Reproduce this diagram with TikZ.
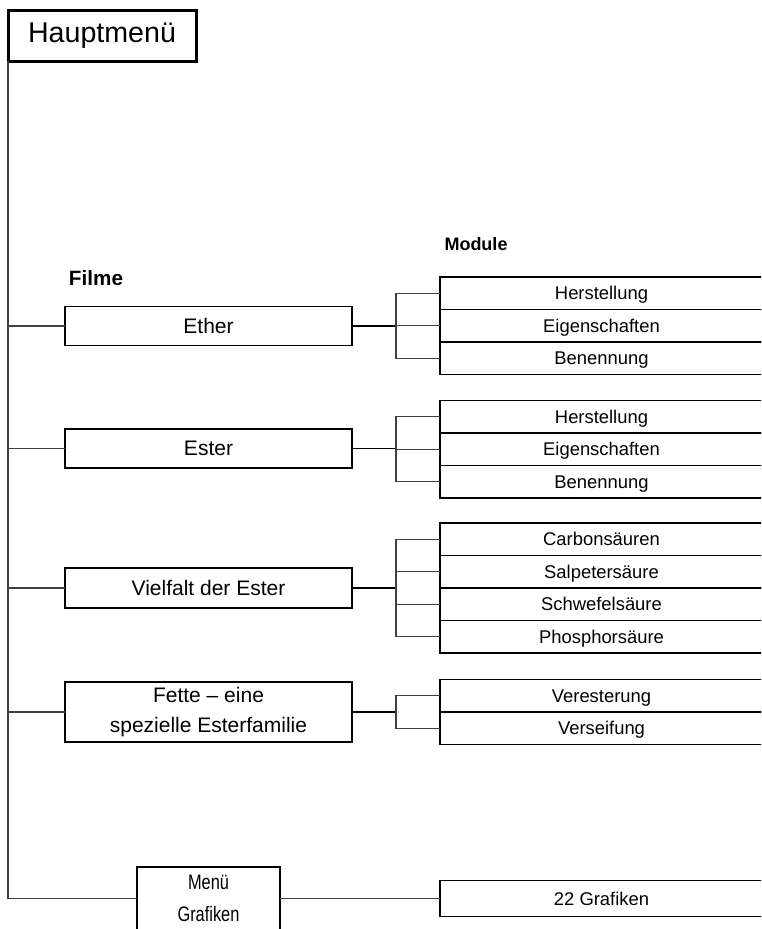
\documentclass[tikz,border=0pt]{standalone}
\usepackage{fontspec}
\setmainfont{Liberation Sans}
\usetikzlibrary{positioning}

\tikzset{
  kopf/.style={draw, line width=3pt, minimum width=188pt, minimum height=51pt, inner sep=0pt, outer sep=0pt, font=\fontsize{28.6}{32}\selectfont},
  film/.style={draw, line width=1.2pt, minimum width=287pt, minimum height=39pt, inner sep=0pt, outer sep=0pt, align=center, text height=17pt, text depth=2.5pt, font=\fontsize{21}{30}\selectfont},
  modul/.style={draw, line width=1.2pt, minimum width=323pt, minimum height=32.5pt, inner sep=0pt, outer sep=0pt, anchor=north west, text height=15pt, text depth=2pt, font=\fontsize{18.4}{22}\selectfont},
  titel/.style={font=\bfseries\fontsize{#1}{#1}\selectfont},
  link/.style={line width=1.8pt},
  stub/.style={line width=1.1pt, black!75}
}

\begin{document}
\begin{tikzpicture}[x=1pt, y=-1pt]
    \useasboundingbox (0,0) rectangle (761,929);
    \clip (0,0) rectangle (761,929);
    \node[kopf] (haupt) at (102,35.5) {Hauptmenü};
    \node[titel=20.7] (filme) at (96,278) {Filme};
    \node[titel=18] (module) at (476,244) {Module};
    % edit here for the films
    \node[film] (ether) at (208.5,326) {Ether};
    \node[film] (ester) at (208.5,448.5) {Ester};
    \node[film, minimum height=40pt] (vielfalt) at (208.5,588) {Vielfalt der Ester};
    \node[film, minimum height=60pt, text height=, text depth=] (fette) at (208.5,712) {Fette – eine\\spezielle Esterfamilie};
    \node[film, minimum width=143pt, minimum height=63pt, text height=, text depth=, font=\fontsize{21}{32}\selectfont] (menu) at (208.5,898.5) {\scalebox{0.78}[1]{Menü}\\\scalebox{0.78}[1]{Grafiken}};
    % edit here for the modules
    \foreach \txt [count=\i] in {Herstellung,Eigenschaften,Benennung}
    \node[modul] (ether-\i) at (440,277+32.5*\i-32.5) {\txt};
    \foreach \txt [count=\i] in {Herstellung,Eigenschaften,Benennung}
    \node[modul] (ester-\i) at (440,400.5+32.5*\i-32.5) {\txt};
    \foreach \txt [count=\i] in {Carbonsäuren,Salpetersäure,Schwefelsäure,Phosphorsäure}
    \node[modul] (vielfalt-\i) at (440,523+32.5*\i-32.5) {\txt};
    \foreach \txt [count=\i] in {Veresterung,Verseifung}
    \node[modul] (fette-\i) at (440,679.5+32.5*\i-32.5) {\txt};
    \node[modul, anchor=west, minimum height=36pt] (grafik) at (440,898.5) {22 Grafiken};
    % edit here for the brackets
    \foreach \f/\n in {ether/3,ester/3,vielfalt/4,fette/2} {
      \coordinate[right=44pt of \f] (\f-j);
      \draw[link] (\f) -- (\f-j);
      \foreach \i in {1,...,\n}
      \draw[stub] (\f-j) |- (\f-\i.west);
    }
    % trunk
    \draw[stub, line width=1.4pt] (haupt.south west) |- (menu.west);
    \foreach \f in {ether,ester,vielfalt,fette}
    \draw[stub] (\f.west) -- (\f.west -| haupt.south west);
    \draw[stub, line width=1.4pt] (menu) -- (grafik);
\end{tikzpicture}
\end{document}
